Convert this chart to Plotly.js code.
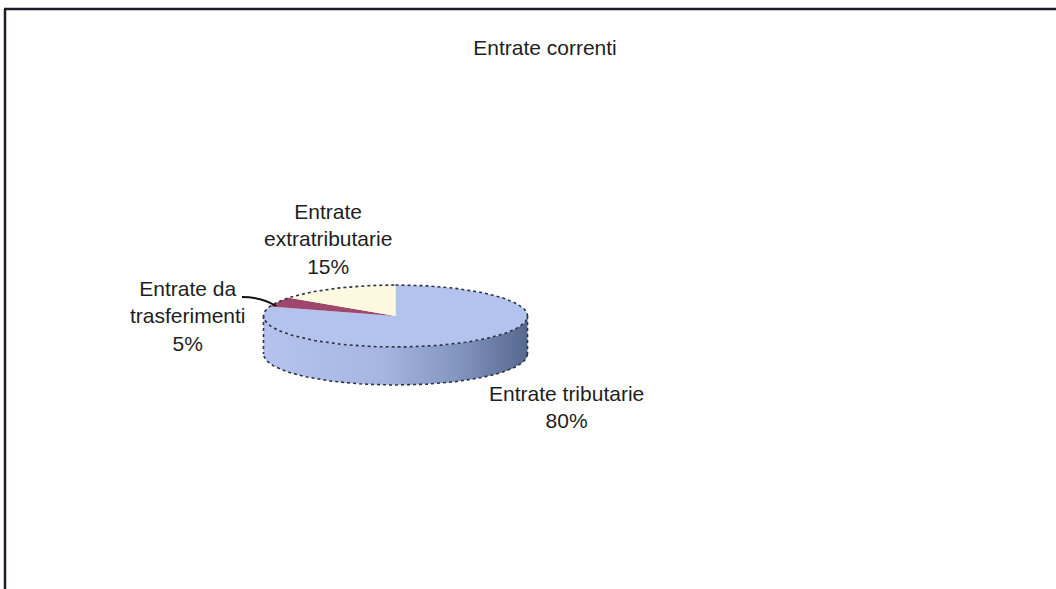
<!DOCTYPE html>
<html>
<head>
<meta charset="utf-8">
<script src="https://cdn.plot.ly/plotly-3.0.1.min.js"></script>
<style>
  html, body { margin: 0; padding: 0; background: #ffffff; }
  #chart { width: 1056px; height: 589px; }
</style>
</head>
<body>
<div id="chart"></div>
<script>
// ---- data ----
const chartTitle = "Entrate correnti";
const categories = ["Entrate tributarie", "Entrate da trasferimenti", "Entrate extratributarie"];
const labelLines = [["Entrate tributarie"], ["Entrate da", "trasferimenti"], ["Entrate", "extratributarie"]];
const values = [80, 5, 15];

// ---- style / layout constants ----
const W = 1056, H = 589;
const CX = 395.5, CY = 316, RX = 132, RY = 31, DEPTH = 38;
const topColors = ["#b4c3ee", "#9e466b", "#fdf8e0"];
const labelPos = [[566, 407], [188, 316], [328, 239]];
const FONT = "Liberation Sans, Arial, sans-serif";

const total = values.reduce((a, b) => a + b, 0);
const rad = d => d * Math.PI / 180;
const px = th => CX + RX * Math.sin(rad(th));
const py = th => CY - RY * Math.cos(rad(th));

const traces = [];

// slice angle ranges, clockwise from 12 o'clock
let acc = 0;
const ranges = values.map(v => { const a0 = acc / total * 360; acc += v; return [a0, acc / total * 360]; });

// side walls (front half only: 90..270 deg)
ranges.forEach((r, i) => {
  const a0 = Math.max(r[0], 90), a1 = Math.min(r[1], 270);
  if (a1 <= a0) return;
  const xs = [], ys = [];
  const n = 80;
  for (let k = 0; k <= n; k++) { const t = a0 + (a1 - a0) * k / n; xs.push(px(t)); ys.push(py(t)); }
  for (let k = n; k >= 0; k--) { const t = a0 + (a1 - a0) * k / n; xs.push(px(t)); ys.push(py(t) + DEPTH); }
  traces.push({
    x: xs, y: ys, type: "scatter", mode: "lines", fill: "toself",
    fillcolor: "#9aa9d6",
    fillgradient: { type: "horizontal", colorscale: [[0, "#b5c3ee"], [0.45, "#a6b5e2"], [0.75, "#8193bf"], [1, "#55688e"]] },
    line: { width: 0 }, hoverinfo: "skip", showlegend: false
  });
});

// top faces
ranges.forEach((r, i) => {
  const xs = [CX], ys = [CY];
  const n = Math.max(4, Math.ceil((r[1] - r[0]) / 2));
  for (let k = 0; k <= n; k++) { const t = r[0] + (r[1] - r[0]) * k / n; xs.push(px(t)); ys.push(py(t)); }
  xs.push(CX); ys.push(CY);
  traces.push({
    x: xs, y: ys, type: "scatter", mode: "lines", fill: "toself",
    fillcolor: topColors[i], line: { width: 0 },
    name: categories[i], hoverinfo: "name", showlegend: false
  });
});

// dotted outline of the disc
(function () {
  const xs = [], ys = [];
  for (let t = 0; t <= 360; t += 2) { xs.push(px(t)); ys.push(py(t)); }
  xs.push(null); ys.push(null);
  for (let t = 90; t <= 270; t += 2) { xs.push(px(t)); ys.push(py(t) + DEPTH); }
  xs.push(null); ys.push(null);
  xs.push(px(90), px(90)); ys.push(py(90), py(90) + DEPTH);
  xs.push(null); ys.push(null);
  xs.push(px(270), px(270)); ys.push(py(270), py(270) + DEPTH);
  traces.push({
    x: xs, y: ys, type: "scatter", mode: "lines",
    line: { color: "#2c3345", width: 1.6, dash: "dot" },
    hoverinfo: "skip", showlegend: false, connectgaps: false
  });
})();

const annotations = categories.map((c, i) => ({
  x: labelPos[i][0], y: labelPos[i][1], xref: "x", yref: "y",
  text: labelLines[i].join("<br>") + "<br>" + Math.round(values[i] / total * 100) + "%",
  showarrow: false, align: "center", xanchor: "center", yanchor: "middle",
  font: { family: FONT, size: 21, color: "#1e1e1e" }
}));

const layout = {
  width: W, height: H,
  margin: { l: 0, r: 0, t: 0, b: 0 },
  paper_bgcolor: "#ffffff", plot_bgcolor: "#ffffff",
  showlegend: false,
  title: {
    text: chartTitle, x: 545 / W, xanchor: "center", xref: "paper",
    y: 1 - 48 / H, yanchor: "middle", yref: "container",
    font: { family: FONT, size: 21, color: "#1e1e1e" }
  },
  xaxis: { range: [0, W], visible: false, fixedrange: true },
  yaxis: { range: [H, 0], visible: false, fixedrange: true },
  annotations: annotations,
  shapes: [
    { type: "line", xref: "paper", yref: "paper", x0: 4 / W, x1: 1, y0: 1 - 9 / H, y1: 1 - 9 / H,
      line: { color: "#1c1c2a", width: 2.5 } },
    { type: "line", xref: "paper", yref: "paper", x0: 5 / W, x1: 5 / W, y0: 0, y1: 1 - 9 / H,
      line: { color: "#1c1c2a", width: 2.5 } },
    { type: "path", xref: "x", yref: "y", path: "M 242 297 Q 262 297 276 306",
      line: { color: "#111111", width: 2 } }
  ]
};

Plotly.newPlot("chart", traces, layout, { displayModeBar: false, staticPlot: true });
</script>
</body>
</html>
